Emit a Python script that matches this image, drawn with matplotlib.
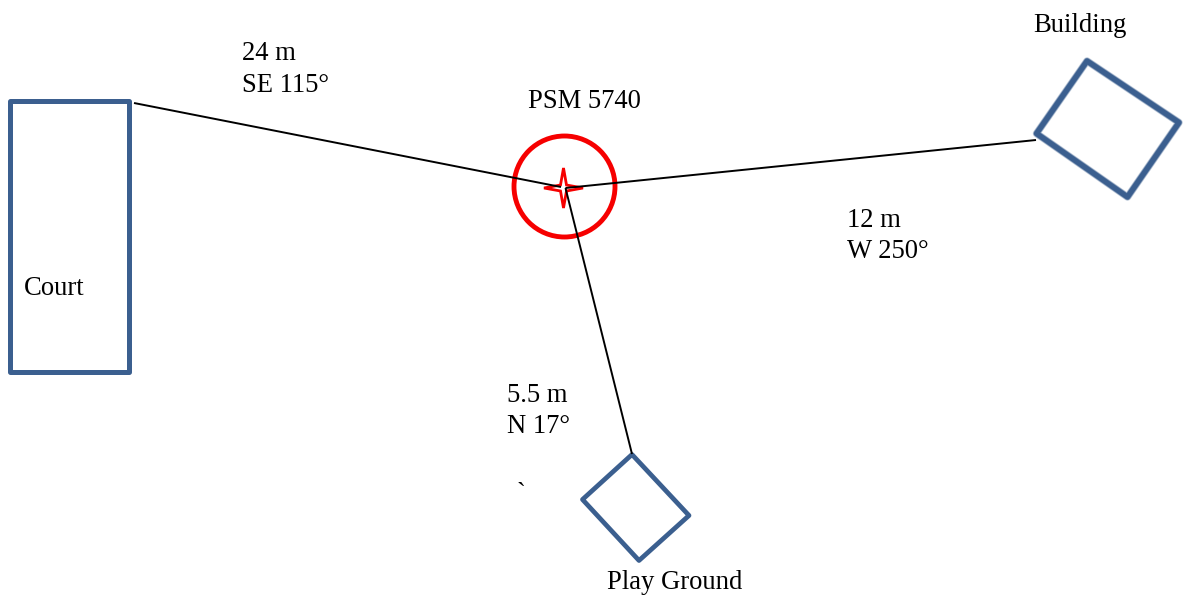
import matplotlib
matplotlib.use("Agg")
import matplotlib.pyplot as plt
import matplotlib.patheffects as pe
from matplotlib.patches import Polygon, Circle

W, H = 1183, 596
BLUE = "#3b5f8f"
RED = "#f60000"

court = [(10.5, 101), (129.5, 101), (129.5, 372), (10.5, 372)]
building = [(1087, 61), (1179, 122.5), (1127.5, 197), (1036.5, 133.5)]
playground = [(632, 454.5), (689, 515.5), (639, 560.5), (582.5, 499.5)]

lines = [
    ((134, 103), (561, 187)),
    ((565.5, 188), (1036, 140)),
    ((565.5, 188), (632, 454)),
]
star = [(563.5, 168), (566.5, 185), (583, 188), (566.5, 191), (563.5, 208), (560.5, 191), (544, 188), (560.5, 185)]

labels = [
    (242, 60, "24 m"), (242, 92, "SE 115°"),
    (528, 108, "PSM 5740"), (1033, 32, "Building"),
    (847, 227, "12 m"), (847, 258, "W 250°"),
    (24, 295, "Court"), (507, 402, "5.5 m"),
    (507, 433, "N 17°"), (517, 501, "`"),
    (607, 589, "Play Ground"),
]

fig = plt.figure(figsize=(W / 100, H / 100), dpi=100)
ax = fig.add_axes([0, 0, 1, 1])
ax.set_xlim(0, W)
ax.set_ylim(H, 0)
ax.axis("off")

ax.add_patch(Polygon(court, closed=True, fc="none", ec=BLUE, lw=3.6, joinstyle="round"))
bld = Polygon(building, closed=True, fc="none", ec=BLUE, lw=3.8, joinstyle="round")
bld.set_path_effects([
    pe.Stroke(linewidth=5.4, foreground=BLUE, alpha=0.3),
    pe.Stroke(linewidth=4.6, foreground=BLUE, alpha=0.5),
    pe.Normal(),
])
ax.add_patch(bld)
ax.add_patch(Polygon(playground, closed=True, fc="none", ec=BLUE, lw=3.4, joinstyle="round"))

ax.add_patch(Circle((564.5, 186.5), 50.5, fc="none", ec=RED, lw=3.5, zorder=2))
ax.add_patch(Polygon(star, closed=True, fc="white", ec=RED, lw=2.0, joinstyle="miter", zorder=2))

for a, b in lines:
    ax.plot([a[0], b[0]], [a[1], b[1]], color="black", lw=1.4, solid_capstyle="butt", zorder=3)

for x, y, s in labels:
    ax.text(x, y, s, family="Liberation Serif", fontsize=19.2, color="black", ha="left", va="baseline")

fig.savefig("out.png", dpi=100)
